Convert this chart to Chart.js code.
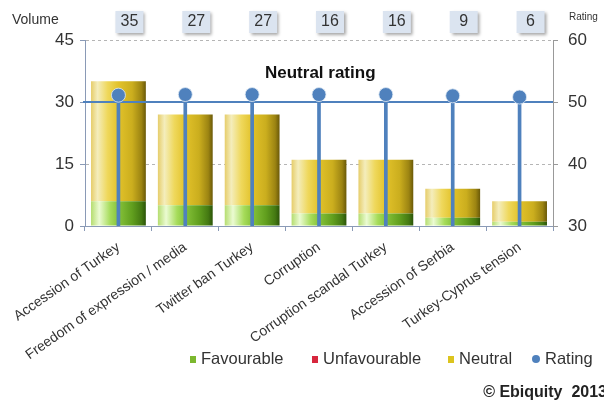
<!DOCTYPE html>
<html lang="en">
<head>
    <meta charset="UTF-8">
    <title>Volume and rating by topic</title>
    <script src="https://cdn.jsdelivr.net/npm/chart.js"></script>
    <style>
        body {
            margin: 0;
            background: #fff;
            font-family: "Liberation Sans", Arial, sans-serif;
            color: #333;
        }
        #wrap {
            position: relative;
            width: 604px;
            height: 403px;
        }
        .txt {
            position: absolute;
            white-space: nowrap;
        }
        #volumeLabel { left: 12px; top: 11px; font-size: 14px; }
        #ratingLabel { left: 569px; top: 11px; font-size: 10px; }
        #neutralLabel { left: 265px; top: 63px; font-size: 17px; font-weight: bold; color: #111; }
        #copyright { right: -3px; top: 383px; font-size: 16px; font-weight: bold; color: #222; }
        .legend-item {
            position: absolute;
            top: 348px;
            font-size: 16.5px;
            line-height: 20px;
            color: #333;
            white-space: nowrap;
        }
        .legend-item i {
            display: inline-block;
            width: 6px;
            height: 7px;
            margin-right: 5px;
            vertical-align: 1px;
        }
        .legend-item i.dot {
            width: 8px;
            height: 8px;
            border-radius: 50%;
        }
    </style>
</head>
<body>
    <div id="wrap">
        <canvas id="chart" width="604" height="403"></canvas>
        <div class="txt" id="volumeLabel">Volume</div>
        <div class="txt" id="ratingLabel">Rating</div>
        <div class="txt" id="neutralLabel">Neutral rating</div>
        <div id="legend"></div>
        <div class="txt" id="copyright">© Ebiquity&nbsp; 2013</div>
    </div>

    <script>
        // data
        const categories = ['Accession of Turkey', 'Freedom of expression / media', 'Twitter ban Turkey',
            'Corruption', 'Corruption scandal Turkey', 'Accession of Serbia', 'Turkey-Cyprus tension'];
        const favourable = [6, 5, 5, 3, 3, 2, 1];
        const unfavourable = [0, 0, 0, 0, 0, 0, 0];
        const neutral = [29, 22, 22, 13, 13, 7, 5];
        const ratings = [51.1, 51.2, 51.2, 51.2, 51.2, 51.0, 50.8];
        const volumes = [35, 27, 27, 16, 16, 9, 6];
        const neutralRating = 50;
        const ratingBase = 30;

        const BAR_PCT = 0.82;
        const blue = '#4f81bd';
        const FONT = '"Liberation Sans", Arial, sans-serif';

        const neutralStops = [[0, '#e6cd6a'], [0.12, '#f4edbc'], [0.3, '#efd85c'], [0.5, '#e2c22a'],
            [0.75, '#cbae1e'], [0.92, '#9c8412'], [1, '#6a5908']];
        const favourableStops = [[0, '#b5dd70'], [0.15, '#ebfbd2'], [0.35, '#a6dc5a'], [0.5, '#86c23a'],
            [0.75, '#619f1e'], [0.92, '#447912'], [1, '#2b5408']];

        // horizontal gradient across each bar, built from the x scale
        function barGradient(stops) {
            return (ctx) => {
                const chart = ctx.chart;
                const xs = chart.scales.x;
                if (!xs || ctx.type !== 'data') return stops[3][1];
                const cx = xs.getPixelForValue(ctx.dataIndex);
                const w = xs.width / categories.length * BAR_PCT;
                if (!isFinite(cx) || !isFinite(w) || w <= 0) return stops[3][1];
                const g = chart.ctx.createLinearGradient(cx - w / 2, 0, cx + w / 2, 0);
                stops.forEach(([o, c]) => g.addColorStop(o, c));
                return g;
            };
        }

        // neutral line (drawn over the bars, under the dots)
        const neutralLine = {
            id: 'neutralLine',
            beforeDatasetDraw(chart, args) {
                if (args.index !== 4) return;
                const y = chart.scales.y1.getPixelForValue(neutralRating);
                const ctx = chart.ctx;
                ctx.save();
                ctx.strokeStyle = blue;
                ctx.lineWidth = 2;
                ctx.beginPath();
                ctx.moveTo(chart.chartArea.left - 2, y);
                ctx.lineTo(chart.chartArea.right, y);
                ctx.stroke();
                ctx.restore();
            }
        };

        // volume boxes above the plot
        const volumeBoxes = {
            id: 'volumeBoxes',
            afterDraw(chart) {
                const ctx = chart.ctx;
                const xs = chart.scales.x;
                ctx.save();
                volumes.forEach((v, i) => {
                    const cx = xs.getPixelForValue(i) + 11;
                    ctx.shadowColor = 'rgba(0,0,0,0.35)';
                    ctx.shadowBlur = 3;
                    ctx.shadowOffsetX = 2;
                    ctx.shadowOffsetY = 2;
                    ctx.fillStyle = '#dbe4f0';
                    ctx.fillRect(cx - 14, 11, 28, 22);
                    ctx.shadowColor = 'transparent';
                    ctx.fillStyle = '#333';
                    ctx.font = '16px ' + FONT;
                    ctx.textAlign = 'center';
                    ctx.textBaseline = 'middle';
                    ctx.fillText(String(v), cx, 22);
                });
                ctx.restore();
            }
        };

        const chart = new Chart(document.getElementById('chart'), {
            type: 'bar',
            data: {
                labels: categories,
                datasets: [
                    {
                        label: 'Favourable', data: favourable, stack: 'vol', yAxisID: 'y', order: 2,
                        backgroundColor: barGradient(favourableStops),
                        barPercentage: BAR_PCT, categoryPercentage: 1
                    },
                    {
                        label: 'Unfavourable', data: unfavourable, stack: 'vol', yAxisID: 'y', order: 2,
                        backgroundColor: '#d7263d',
                        barPercentage: BAR_PCT, categoryPercentage: 1
                    },
                    {
                        label: 'Neutral', data: neutral, stack: 'vol', yAxisID: 'y', order: 2,
                        backgroundColor: barGradient(neutralStops),
                        barPercentage: BAR_PCT, categoryPercentage: 1
                    },
                    {
                        label: 'stem', data: ratings.map(r => [ratingBase, r]), yAxisID: 'y1', order: 1,
                        grouped: false, barThickness: 3, backgroundColor: blue
                    },
                    {
                        type: 'line', label: 'Rating', data: ratings, yAxisID: 'y1', order: 0,
                        showLine: false, pointRadius: 7, pointBackgroundColor: blue,
                        pointBorderColor: 'rgba(225,235,245,0.8)', pointBorderWidth: 1,
                        backgroundColor: blue, borderColor: blue
                    }
                ]
            },
            options: {
                responsive: false,
                animation: false,
                layout: { padding: { top: 40, left: 0, right: 0, bottom: 0 } },
                plugins: {
                    tooltip: { enabled: false },
                    legend: { display: false }
                },
                scales: {
                    x: {
                        stacked: true,
                        grid: { offset: true, drawOnChartArea: false, tickLength: 5, color: '#8a9ab6' },
                        border: { color: '#8a9ab6' },
                        ticks: {
                            minRotation: 35, maxRotation: 35, padding: 8, labelOffset: 0,
                            color: '#333', font: { size: 14, family: FONT }
                        },
                        afterFit(scale) { scale.height = 177; }
                    },
                    y: {
                        position: 'left', stacked: true, min: 0, max: 45,
                        ticks: { stepSize: 15, padding: 6, color: '#333', font: { size: 17, family: FONT } },
                        grid: { color: '#b5b5b5', tickLength: 5, tickColor: '#8a9ab6' },
                        border: { color: '#8a9ab6', dash: [3, 3] },
                        afterFit(scale) { scale.width = 85; }
                    },
                    y1: {
                        position: 'right', min: 30, max: 60,
                        ticks: { stepSize: 10, padding: 10, color: '#333', font: { size: 17, family: FONT } },
                        grid: { drawOnChartArea: false, tickLength: 5, color: '#999' },
                        border: { color: '#999' },
                        afterFit(scale) { scale.width = 51; }
                    }
                }
            },
            plugins: [neutralLine, volumeBoxes]
        });

        // html legend built from the datasets
        const legendColors = { Favourable: '#7cb82f', Unfavourable: '#d7263d', Neutral: '#dcc41e', Rating: blue };
        const legendLeft = { Favourable: 190, Unfavourable: 312, Neutral: 448, Rating: 532 };
        const legendEl = document.getElementById('legend');
        chart.data.datasets.filter(ds => ds.label in legendColors).forEach(ds => {
            const item = document.createElement('div');
            item.className = 'legend-item';
            item.style.left = legendLeft[ds.label] + 'px';
            const mark = document.createElement('i');
            if (ds.type === 'line') mark.className = 'dot';
            mark.style.background = legendColors[ds.label];
            item.appendChild(mark);
            item.appendChild(document.createTextNode(ds.label));
            legendEl.appendChild(item);
        });
    </script>
</body>
</html>
